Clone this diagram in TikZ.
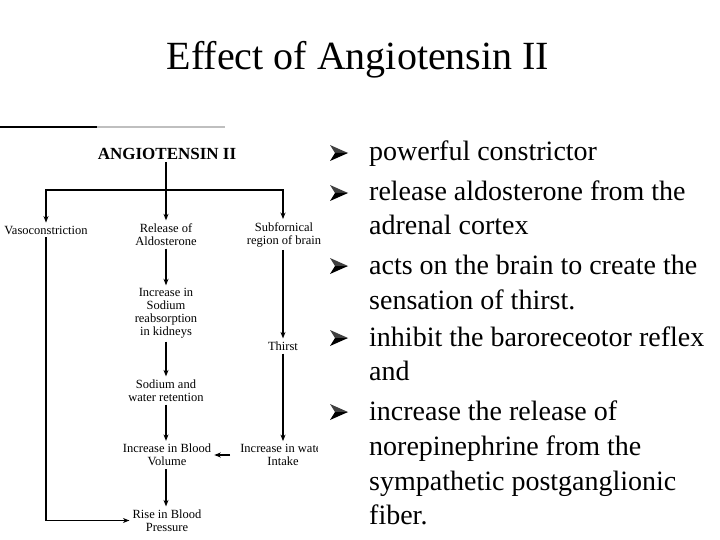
\documentclass[tikz,border=0pt]{standalone}
\usepackage{fontspec}
\setmainfont{Liberation Serif}
\usetikzlibrary{arrows.meta}
\begin{document}
\begin{tikzpicture}[x=1pt,y=-1pt,
  dtext/.style={font=\fontsize{12.5}{13}\selectfont, align=center, inner sep=3pt},
  conn/.style={line width=1.3pt},
  arr/.style={conn, -{Stealth[length=6.5pt,width=5pt]}},
  btext/.style={font=\fontsize{28}{34}\selectfont, anchor=base west, inner sep=0pt},
  bularrow/.pic={
    \fill[black!75] (0,-8) -- (18,0) -- (5,0) -- cycle;
    \fill[black] (5,0) -- (18,0) -- (0,8) -- cycle;
  }
]
\useasboundingbox (0,0) rectangle (720,540);

% title
\node[font=\fontsize{40}{48}\selectfont, anchor=base, inner sep=0pt] (title) at (358,70) {Effect of Angiotensin II};

% top rule of the figure
\draw[line width=1.2pt] (0,127) -- (97,127);
\draw[line width=1.2pt, black!25] (97,127) -- (225,127);

% diagram
\node[font=\bfseries\fontsize{17}{20}\selectfont, anchor=base, inner sep=2pt] (ang) at (167,159.5) {ANGIOTENSIN II};
\node[dtext] (vaso) at (46,230) {Vasoconstriction};
\node[dtext] (rel) at (166,234.5) {Release of\\Aldosterone};
\node[dtext] (sub) at (284,234.5) {Subfornical\\region of brain};
\node[dtext] (inc) at (166,313.5) {Increase in\\Sodium\\reabsorption\\in kidneys};
\node[dtext] (sod) at (166,390.5) {Sodium and\\water retention};
\node[dtext] (vol) at (167,455) {Increase in Blood\\Volume};
\node[dtext] (rise) at (167,520.5) {Rise in Blood\\Pressure};
\node[dtext] (thirst) at (283,346) {Thirst};
\begin{scope}
  \clip (230,430) rectangle (317,480);
  \node[dtext] (intake) at (283,455) {Increase in water\\Intake};
\end{scope}

\coordinate (j) at (166,190);
\draw[arr] (ang.south -| rel.north) -- (rel.north);
\draw[arr] (j) -| (vaso.north);
\draw[arr] (j) -| (sub.north -| thirst);
\draw[arr] (vaso.south) |- (rise.west);
\draw[arr] (rel.south) -- (inc.north);
\draw[arr] (inc.south) -- (sod.north);
\draw[arr] (sod.south) -- (sod.south |- vol.north);
\draw[arr] (vol.south -| sod.south) -- (rise.north -| sod.south);
\draw[arr] (sub.south -| thirst) -- (thirst.north);
\draw[arr] (thirst.south) -- (intake.north);
\draw[arr, shorten <=7pt] (intake.west) -- (vol.east);

% bullets
\pic at (330,153) {bularrow};
\pic at (330,193) {bularrow};
\pic at (330,266) {bularrow};
\pic at (330,338) {bularrow};
\pic at (330,412) {bularrow};

\node[btext] (b1) at (369,161) {powerful constrictor};
\node[btext] (b2a) at (369,201) {release aldosterone from the};
\node[btext] (b2b) at (369,234) {adrenal cortex};
\node[btext] (b3a) at (369,274) {acts on the brain to create the};
\node[btext] (b3b) at (369,309) {sensation of thirst.};
\node[btext] (b4a) at (369,346) {inhibit the baroreceotor reflex};
\node[btext] (b4b) at (369,380) {and};
\node[btext] (b5a) at (369,420) {increase the release of};
\node[btext] (b5b) at (369,455) {norepinephrine from the};
\node[btext] (b5c) at (369,490) {sympathetic postganglionic};
\node[btext] (b5d) at (369,524) {fiber.};
\end{tikzpicture}
\end{document}
